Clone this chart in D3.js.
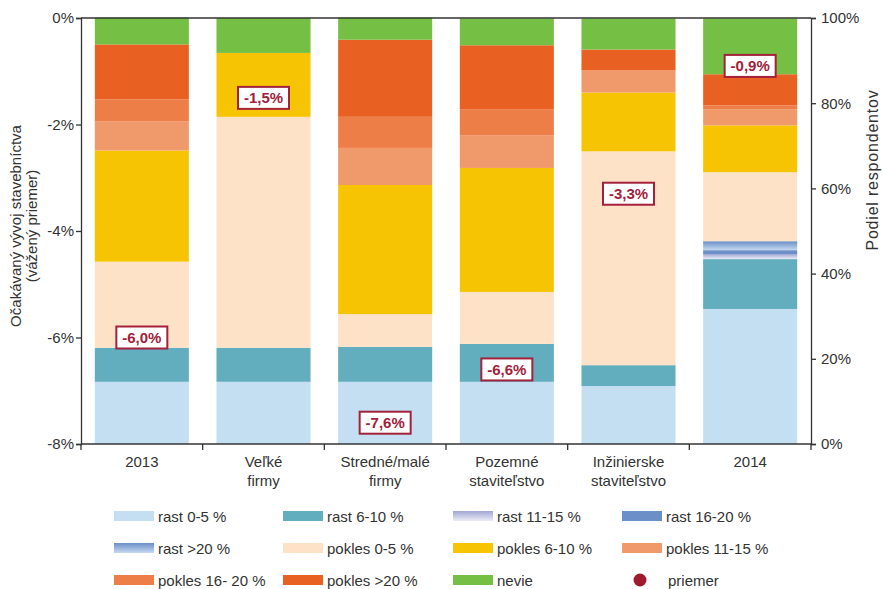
<!DOCTYPE html>
<html><head><meta charset="utf-8">
<script src="https://cdn.jsdelivr.net/npm/d3@7"></script>
<style>
body{margin:0;background:#fff;}
text{font-family:"Liberation Sans",Arial,sans-serif;fill:#333;}
</style></head>
<body><svg id="c" width="883" height="589"></svg>
<script>
const categories = [["2013"],["Veľké","firmy"],["Stredné/malé","firmy"],["Pozemné","staviteľstvo"],["Inžinierske","staviteľstvo"],["2014"]];
const seriesNames = ["rast 0-5 %","rast 6-10 %","rast 11-15 %","rast 16-20 %","rast >20 %","pokles 0-5 %","pokles 6-10 %","pokles 11-15 %","pokles 16- 20 %","pokles >20 %","nevie"];
const rast05    = [14.6,14.6,14.6,14.6,13.6,31.7];
const rast610   = [8.0, 8.0, 8.2, 8.9, 4.9, 11.7];
const rast1115  = [0,   0,   0,   0,   0,   1.2];
const rast1620  = [0,   0,   0,   0,   0,   0.9];
const rast20    = [0,   0,   0,   0,   0,   2.1];
const pokles05  = [20.2,54.2,7.7, 12.2,50.2,16.2];
const pokles610 = [26.1,15.0,30.3,29.1,13.8,11.0];
const pokles1115= [6.8, 0,   8.7, 7.7, 5.2, 3.8];
const pokles1620= [5.2, 0,   7.3, 6.1, 0,   0.9];
const pokles20  = [12.9,0,   18.1,15.0,4.9, 7.3];
const nevie     = [6.3, 8.2, 5.2, 6.3, 7.3, 13.1];
const priemer   = [-6.0,-1.5,-7.6,-6.6,-3.3,-0.9];
const leftTicks = [-8,-6,-4,-2,0];
const rightTicks = [0,20,40,60,80,100];

const seriesValues = [rast05,rast610,rast1115,rast1620,rast20,pokles05,pokles610,pokles1115,pokles1620,pokles20,nevie];
const fills = ["#C5DFF2","#62ADBE","url(#g1115)","#6B8FC6","url(#g20)","#FDE2C8","#F7C404","#F09A6C","#EE7E47","#E96122","#76BF45"];

const svg = d3.select("#c");
const defs = svg.append("defs");
function grad(id, c1, c2){
  const g = defs.append("linearGradient").attr("id",id).attr("x1",0).attr("y1",0).attr("x2",0).attr("y2",1);
  g.append("stop").attr("offset","0%").attr("stop-color",c1);
  g.append("stop").attr("offset","100%").attr("stop-color",c2);
}
grad("g1115","#A0A6D3","#ECECF6");
grad("g20","#6A8EC7","#C7D9F0");

const L=81, R=811, T=18, B=444;
const x = d3.scaleBand().domain(d3.range(categories.length)).range([L,R]).paddingInner(0.227).paddingOuter(0.1135);
const yL = d3.scaleLinear().domain([-8,0]).range([B,T]);
const yR = d3.scaleLinear().domain([0,100]).range([B,T]);

const rows = categories.map((c,i)=>{const o={i}; seriesNames.forEach((s,k)=>o[s]=seriesValues[k][i]); return o;});
const stack = d3.stack().keys(seriesNames)(rows);

svg.append("g").selectAll("g").data(stack).join("g")
  .attr("fill",(d,k)=>fills[k])
  .selectAll("rect").data(d=>d).join("rect")
  .attr("x",d=>x(d.data.i)).attr("width",x.bandwidth())
  .attr("y",d=>yR(d[1])).attr("height",d=>Math.max(0,yR(d[0])-yR(d[1])));

// axes
const axC="#333";
const gl = svg.append("g").attr("transform",`translate(${L},0)`)
  .call(d3.axisLeft(yL).tickValues(leftTicks).tickFormat(d=>d+"%").tickSizeOuter(0).tickSize(5));
const gr = svg.append("g").attr("transform",`translate(${R},0)`)
  .call(d3.axisRight(yR).tickValues(rightTicks).tickFormat(d=>d+"%").tickSizeOuter(0).tickSize(5));
[gl,gr].forEach(g=>{
  g.selectAll("path,line").attr("stroke",axC).attr("stroke-width",1.3);
  g.selectAll("text").style("font-size","15px").attr("fill","#333").style("font-family",'"Liberation Sans",Arial,sans-serif');
});
gl.selectAll("text").attr("x",-7);
gr.selectAll("text").attr("x",10);
// top line
svg.append("line").attr("x1",L).attr("x2",R).attr("y1",T).attr("y2",T).attr("stroke",axC).attr("stroke-width",1.3);
// bottom axis
const gb = svg.append("g");
gb.append("line").attr("x1",L).attr("x2",R).attr("y1",B).attr("y2",B).attr("stroke",axC).attr("stroke-width",1.3);
const step = x.step();
d3.range(categories.length+1).forEach(k=>{
  gb.append("line").attr("x1",L+k*step).attr("x2",L+k*step).attr("y1",B).attr("y2",B+6).attr("stroke",axC).attr("stroke-width",1.3);
});
categories.forEach((c,i)=>{
  const t = gb.append("text").attr("text-anchor","middle").style("font-size","15px")
    .attr("x",x(i)+x.bandwidth()/2).attr("y",467);
  c.forEach((ln,j)=>t.append("tspan").attr("x",x(i)+x.bandwidth()/2).attr("dy",j===0?0:19).text(ln));
});

// axis titles
svg.append("text").attr("transform","translate(21,226) rotate(-90)").attr("text-anchor","middle").style("font-size","15px").text("Očakávaný vývoj stavebníctva");
svg.append("text").attr("transform","translate(37,226) rotate(-90)").attr("text-anchor","middle").style("font-size","15px").text("(vážený priemer)");
svg.append("text").attr("transform","translate(878,170) rotate(-90)").attr("text-anchor","middle").style("font-size","16px").style("letter-spacing","0.8px").text("Podiel respondentov");

// priemer marks + labels
const red="#A3213A";
const pg = svg.append("g");
priemer.forEach((v,i)=>{
  const cx = x(i)+x.bandwidth()/2, cy = yL(v);
  pg.append("circle").attr("cx",cx).attr("cy",cy).attr("r",6).attr("fill","#A0192F");
  pg.append("rect").attr("x",cx-25.5).attr("y",cy-11).attr("width",51).attr("height",22)
    .attr("fill","#fff").attr("stroke",red).attr("stroke-width",2);
  pg.append("text").attr("x",cx).attr("y",cy+5.5).attr("text-anchor","middle")
    .style("font-size","15px").style("font-weight","bold").style("fill",red)
    .text(d3.format(".1f")(v).replace("−","-").replace(".",",")+"%");
});

// legend
const legItems = seriesNames.map((s,k)=>({name:s,fill:fills[k],type:"rect"})).concat([{name:"priemer",type:"dot"}]);
const colX=[114,283,453,622], rowY=[516,548,580];
legItems.forEach((it,k)=>{
  const c=k%4, r=Math.floor(k/4);
  const g = svg.append("g");
  if(it.type==="rect"){
    g.append("rect").attr("x",colX[c]).attr("y",rowY[r]-5).attr("width",40).attr("height",10).attr("fill",it.fill);
    g.append("text").attr("x",colX[c]+44).attr("y",rowY[r]+5.5).style("font-size","15px").text(it.name);
  } else {
    g.append("circle").attr("cx",colX[c]+18).attr("cy",rowY[r]).attr("r",6.5).attr("fill","#A0192F");
    g.append("text").attr("x",colX[c]+46).attr("y",rowY[r]+5.5).style("font-size","15px").text(it.name);
  }
});
</script></body></html>
